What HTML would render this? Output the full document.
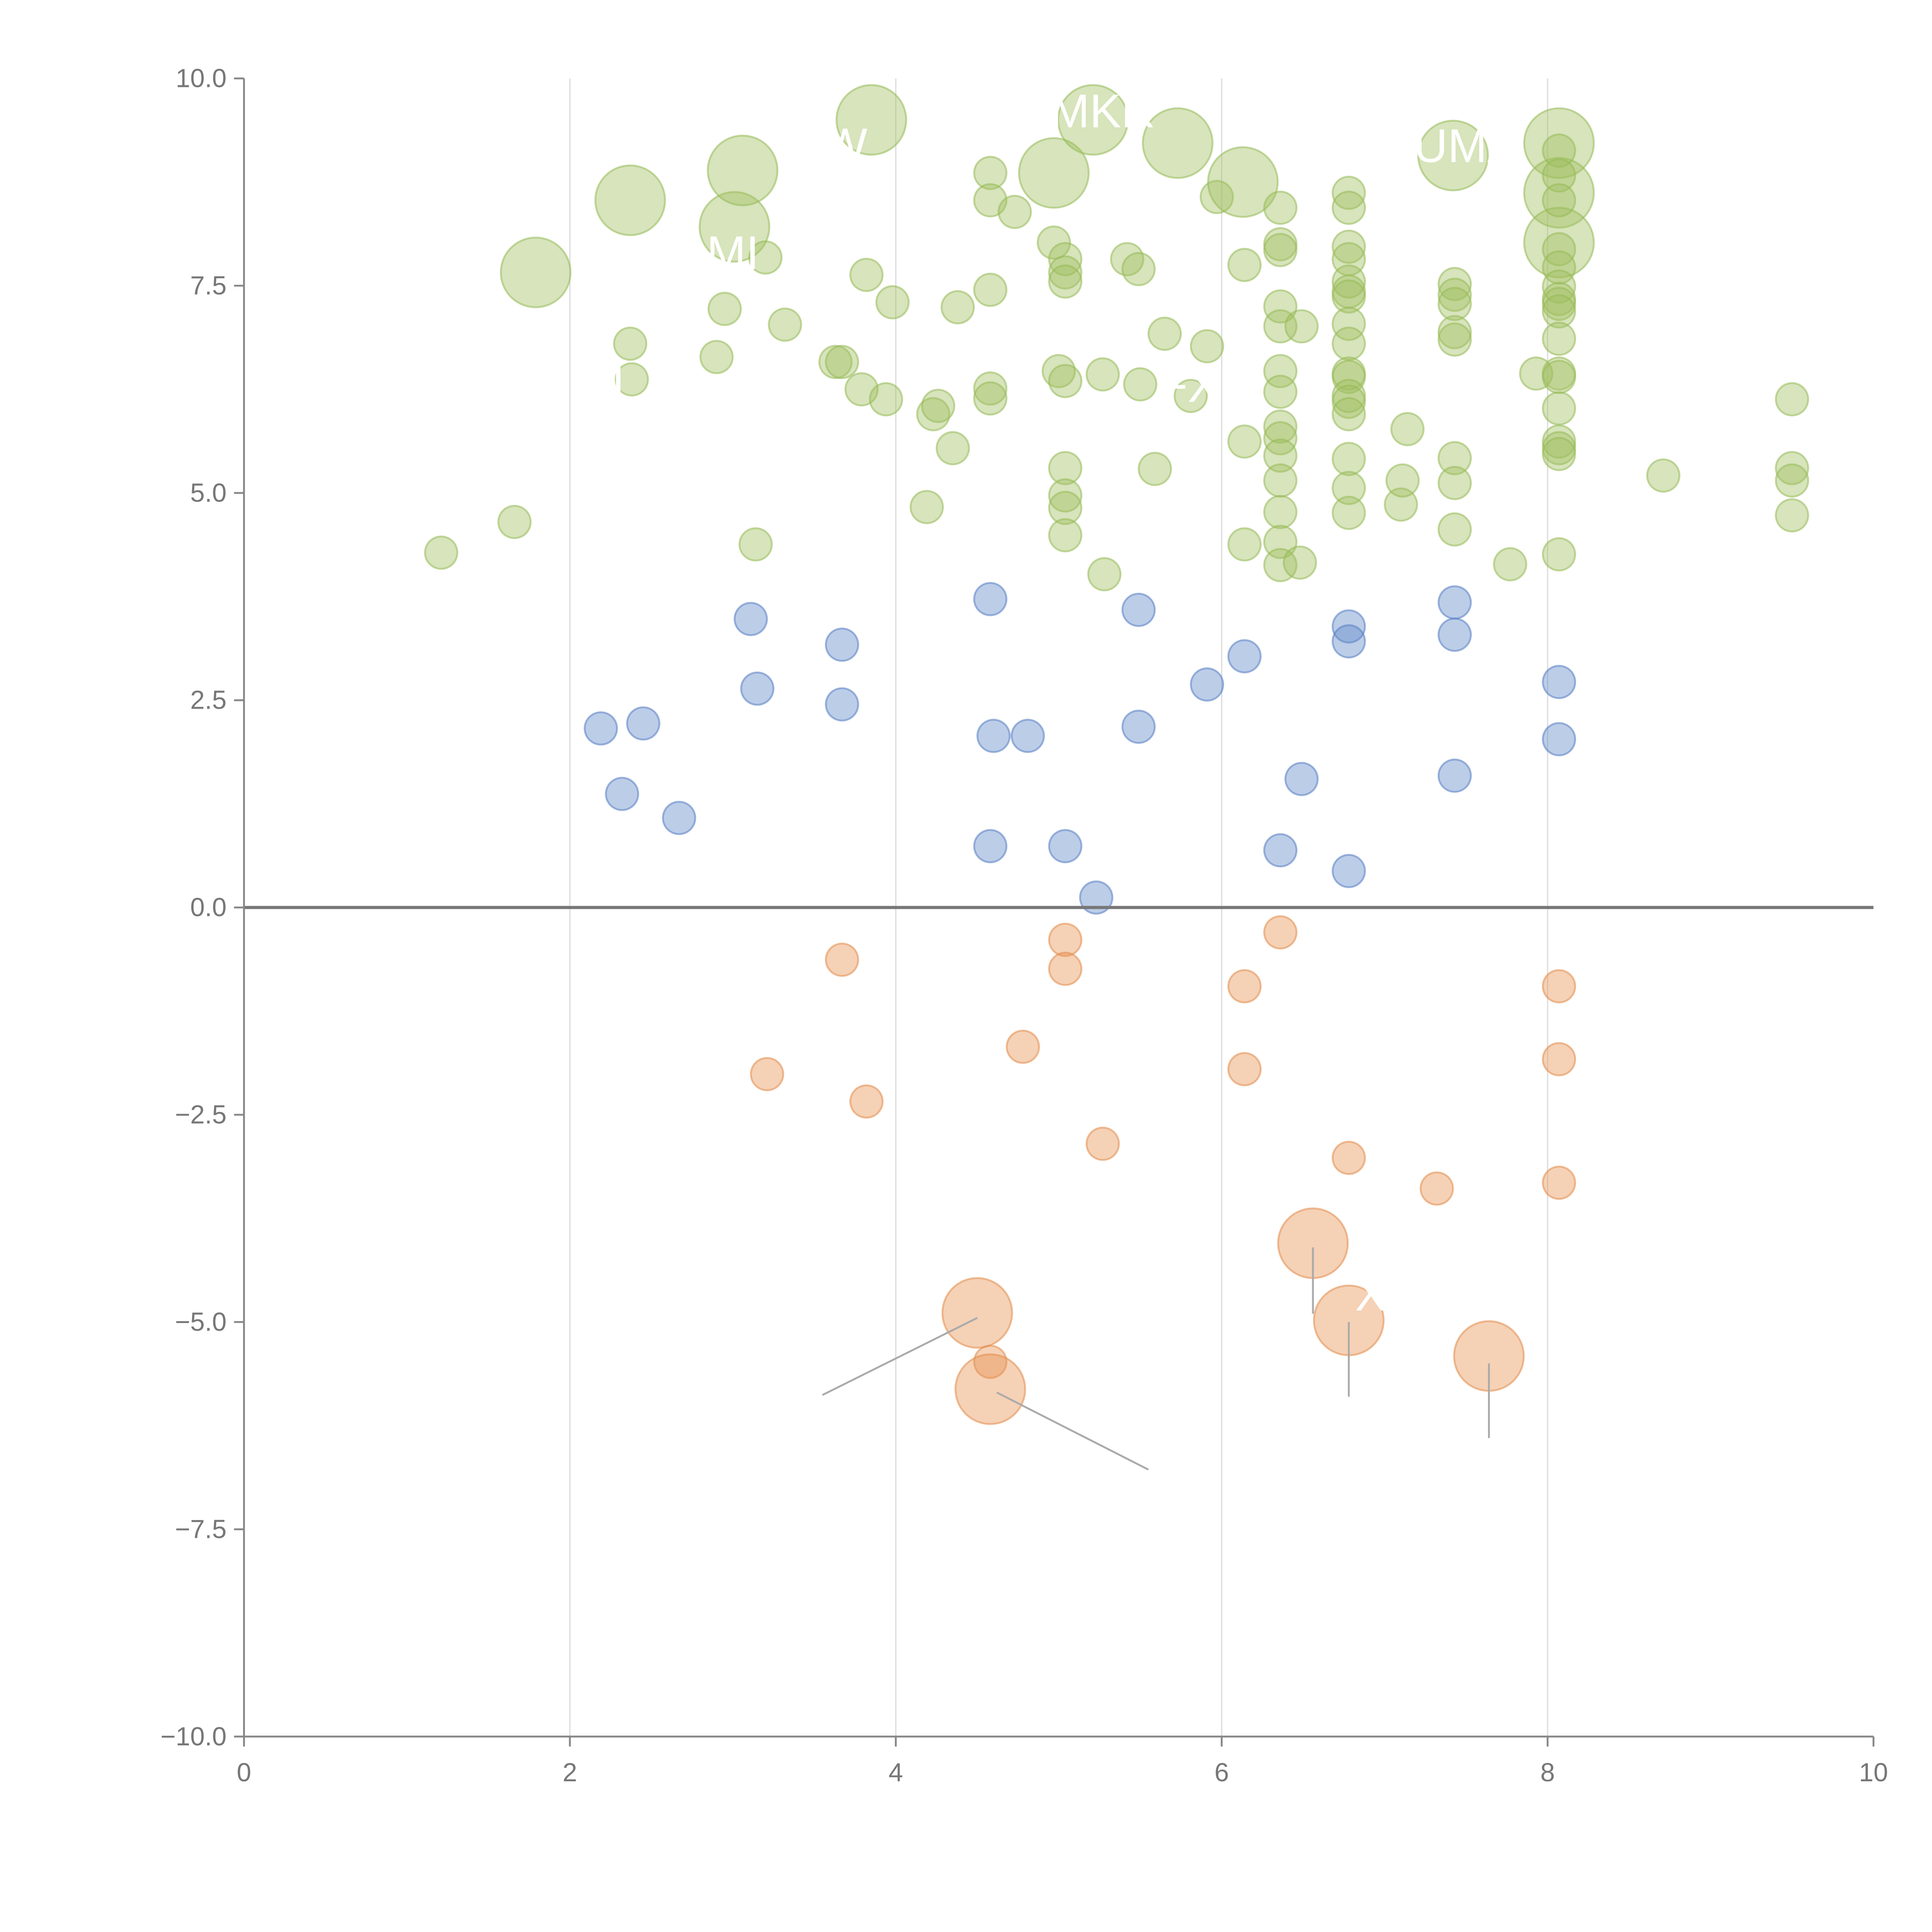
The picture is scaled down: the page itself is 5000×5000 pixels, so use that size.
<!DOCTYPE html>
<html><head><meta charset="utf-8"><style>
html,body{margin:0;padding:0;background:#fff;}
svg{display:block;}
text{font-family:"Liberation Sans",sans-serif;}
</style></head><body>
<svg id="chart" width="5000" height="5000" viewBox="0 0 1552 1552" xmlns="http://www.w3.org/2000/svg">
<g id="grid"></g>
<g id="marks"></g>
<g id="axes"></g>
</svg>
<script>
const greenX=[1.21,1.66,1.79,2.37,2.37,2.38,2.90,2.95,3.01,3.06,3.14,3.20,3.32,3.63,3.67,3.79,3.82,3.85,3.94,3.98,4.19,4.23,4.26,4.35,4.38,4.58,4.58,4.58,4.58,4.58,4.73,4.97,4.97,5.00,5.04,5.04,5.04,5.04,5.04,5.04,5.04,5.04,5.21,5.27,5.28,5.42,5.49,5.50,5.59,5.65,5.73,5.81,5.91,5.97,6.13,6.14,6.14,6.14,
6.36,6.36,6.36,6.36,6.36,6.36,6.36,6.36,6.36,6.36,6.36,6.36,6.36,6.36,6.49,6.48,
6.78,6.78,6.78,6.78,6.78,6.78,6.78,6.78,6.78,6.78,6.78,6.78,6.78,6.78,6.78,6.78,6.78,
7.10,7.11,7.14,7.42,7.43,7.43,7.43,7.43,7.43,7.43,7.43,7.43,7.77,7.93,8.07,8.07,8.07,
8.07,8.07,8.07,8.07,8.07,8.07,8.07,8.07,8.07,8.07,8.07,8.07,8.07,8.07,8.07,8.07,8.07,
8.71,9.50,9.50,9.50,9.50];
const greenY=[4.28,4.65,7.66,8.53,6.80,6.37,6.64,7.22,8.21,8.89,4.38,7.84,7.03,6.58,6.58,6.25,7.63,9.50,6.13,7.30,4.83,5.95,6.05,5.54,7.24,8.86,8.53,7.45,6.26,6.14,8.39,8.86,8.02,6.47,7.82,7.66,7.55,6.35,5.30,4.97,4.82,4.49,9.50,6.43,4.02,7.82,7.70,6.31,5.29,6.92,9.22,6.17,6.77,8.57,8.75,7.75,5.62,4.38,
8.44,8.00,7.93,7.25,7.01,6.47,6.22,5.80,5.66,5.45,5.15,4.77,4.41,4.13,7.01,4.16,
8.62,8.44,7.97,7.82,7.55,7.43,7.37,7.04,6.80,6.44,6.40,6.17,6.10,5.95,5.41,5.06,4.76,
4.86,5.15,5.77,9.07,7.52,7.39,7.28,6.94,6.85,5.42,5.12,4.56,4.14,6.44,9.22,8.62,8.02,
9.13,8.83,8.53,7.94,7.72,7.49,7.34,7.28,7.19,6.86,6.44,6.40,6.02,5.62,5.54,5.47,4.26,
5.21,6.13,5.30,5.15,4.73];
const greenBig=[2,3,8,9,17,31,42,50,54,94,105,106,107];
const blueX=[2.19,2.32,2.45,2.67,3.11,3.15,3.67,3.67,4.58,4.60,4.81,4.58,5.04,5.23,5.49,5.49,5.91,6.14,6.49,6.36,6.78,6.78,6.78,7.43,7.43,7.43,8.07,8.07];
const blueY=[2.16,1.37,2.22,1.08,3.48,2.64,3.17,2.45,3.72,2.07,2.07,0.74,0.74,0.12,3.59,2.18,2.69,3.03,1.55,0.69,3.39,3.21,0.44,3.68,3.29,1.59,2.72,2.03];
const orangeX=[3.21,3.67,3.82,4.78,5.04,5.04,5.27,6.14,6.14,6.36,6.78,7.32,8.07,8.07,8.07,4.58,4.50,4.58,6.56,6.78,7.64];
const orangeY=[-2.01,-0.63,-2.34,-1.68,-0.39,-0.74,-2.85,-0.95,-1.95,-0.30,-3.02,-3.39,-0.95,-1.83,-3.32,-5.48,-4.89,-5.81,-4.05,-4.98,-5.41];
const orangeBig=[16,17,18,19,20];
const xTicks=[0,2,4,6,8,10];
const yTicks=[10,7.5,5,2.5,0,-2.5,-5,-7.5,-10];
const labels=[{t:"MKR",x:5.27,y:9.41},{t:"UMA",x:7.50,y:8.99},{t:"XN",x:7.02,y:-4.86},{t:"O",x:2.95,y:9.3},{t:"TW",x:3.6,y:9.0},{t:"MI",x:3.0,y:7.7},{t:"SI",x:2.2,y:6.2},{t:"FX",x:5.8,y:6.1}];
const leaders=[[4.50,-4.95,3.55,-5.88],[4.62,-5.85,5.55,-6.78],[6.56,-4.1,6.56,-4.9],[6.78,-5.0,6.78,-5.9],[7.64,-5.5,7.64,-6.4]];

const SVGNS="http://www.w3.org/2000/svg";
const X0=196,X1=1505,Y0=63,Y1=1395;
const sx=v=>X0+(v-0)/(10-0)*(X1-X0);
const sy=v=>Y1-(v+10)/20*(Y1-Y0);
function mk(tag,attrs,parent){const e=document.createElementNS(SVGNS,tag);for(const k in attrs)e.setAttribute(k,attrs[k]);parent.appendChild(e);return e;}
const grid=document.getElementById('grid'),marks=document.getElementById('marks'),axes=document.getElementById('axes');
[2,4,6,8].forEach(v=>{const l=mk('line',{x1:sx(v),x2:sx(v),y1:Y0,y2:Y1,stroke:'#dcdcdc','stroke-width':1},grid);

});
function series(xs,ys,big,fill,stroke,name){xs.forEach((v,i)=>{const r=big.includes(i)?28:13;
const c=mk('circle',{cx:sx(v),cy:sy(ys[i]),r:r,fill:fill,stroke:stroke,'stroke-width':1.5},marks);

});}
series(greenX,greenY,greenBig,'rgba(160,190,95,0.42)','rgba(150,185,85,0.55)','green-bubble');
series(blueX,blueY,[],'rgba(95,135,200,0.42)','rgba(85,125,195,0.55)','blue-bubble');
series(orangeX,orangeY,orangeBig,'rgba(230,145,80,0.42)','rgba(225,140,75,0.55)','orange-bubble');
leaders.forEach(a=>{const l=mk('line',{x1:sx(a[0]),y1:sy(a[1]),x2:sx(a[2]),y2:sy(a[3]),stroke:'#aaa','stroke-width':1.5},marks);

});
labels.forEach(o=>{const t=mk('text',{x:sx(o.x),y:sy(o.y),fill:'#fff','font-size':38,'text-anchor':'middle'},marks);t.textContent=o.t;

});
let z=mk('line',{x1:X0,x2:X1,y1:sy(0),y2:sy(0),stroke:'#777','stroke-width':2.5},axes);


let ya=mk('line',{x1:X0,x2:X0,y1:Y0,y2:Y1,stroke:'#888','stroke-width':1.5},axes);


let xa=mk('line',{x1:X0,x2:X1,y1:Y1,y2:Y1,stroke:'#888','stroke-width':1.5},axes);


xTicks.forEach(v=>{mk('line',{x1:sx(v),x2:sx(v),y1:Y1,y2:Y1+8,stroke:'#888','stroke-width':1.5},axes);
const t=mk('text',{x:sx(v),y:Y1+36,fill:'#777','font-size':21,'text-anchor':'middle'},axes);t.textContent=String(v);

});
yTicks.forEach(v=>{mk('line',{x1:X0-8,x2:X0,y1:sy(v),y2:sy(v),stroke:'#888','stroke-width':1.5},axes);
const t=mk('text',{x:X0-14,y:sy(v)+7,fill:'#777','font-size':21,'text-anchor':'end'},axes);t.textContent=v.toFixed(1).replace('-','\u2212');

});
</script>
</body></html>
